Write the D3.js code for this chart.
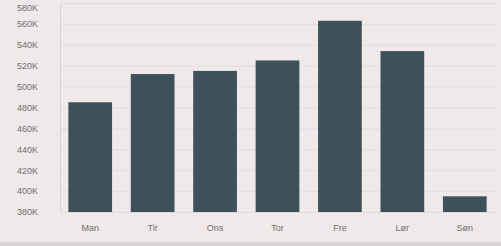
<!DOCTYPE html>
<html>
<head>
<meta charset="utf-8">
<script src="https://cdn.jsdelivr.net/npm/d3@7"></script>
<style>
  html, body { margin: 0; padding: 0; background: #efe9ea; }
  svg { display: block; }
</style>
</head>
<body>
<script>
// ugedage og salg (tusinder)
const days = ["Man", "Tir", "Ons", "Tor", "Fre", "Lør", "Søn"];
const sales = [485, 512, 515, 525, 563, 534, 395];
const yTicks = [380, 400, 420, 440, 460, 480, 500, 520, 540, 560, 580];

const width = 501;
const height = 246;

const svg = d3.select("body").append("svg")
    .attr("width", width)
    .attr("height", height);

// baggrund
svg.append("rect")
    .attr("width", width)
    .attr("height", height)
    .attr("fill", "#efe9ea");

// grå kant i bunden
svg.append("rect")
    .attr("x", 0)
    .attr("y", 242)
    .attr("width", width)
    .attr("height", 4)
    .attr("fill", "#d6d1d3");

const x = d3.scaleBand()
    .domain(days)
    .range([59, 496])
    .paddingInner(0.3)
    .paddingOuter(0.15);

const y = d3.scaleLinear()
    .domain([380, 580])
    .range([212, 3]);

// gitterlinjer
svg.append("g")
    .selectAll("line")
    .data(yTicks)
    .enter().append("line")
    .attr("x1", 60)
    .attr("x2", 496)
    .attr("y1", d => y(d) + 0.5)
    .attr("y2", d => y(d) + 0.5)
    .attr("stroke", "#e4dcde")
    .attr("stroke-width", 1);

// y-akse
const yAxis = svg.append("g")
    .attr("transform", "translate(60,0)")
    .call(d3.axisLeft(y).tickValues(yTicks).tickSize(0).tickPadding(22)
        .tickFormat(d => d + "K"));
yAxis.select(".domain").attr("stroke", "#d9d0d3");
yAxis.selectAll("text")
    .style("font", "9px 'Liberation Sans', Arial, sans-serif")
    .attr("fill", "#726d6f");
// øverste etiket lidt ned så den ikke skæres af
yAxis.selectAll(".tick").filter(d => d === 580).select("text").attr("dy", "0.8em");

// søjler
svg.append("g")
    .selectAll("rect")
    .data(days)
    .enter().append("rect")
    .attr("x", d => x(d))
    .attr("y", (d, i) => y(sales[i]))
    .attr("width", x.bandwidth())
    .attr("height", (d, i) => y(380) - y(sales[i]))
    .attr("fill", "#3c5159");

// x-akse
const xAxis = svg.append("g")
    .attr("transform", "translate(0,212)")
    .call(d3.axisBottom(x).tickSize(0).tickPadding(13));
xAxis.select(".domain").remove();
xAxis.selectAll("text")
    .style("font", "9px 'Liberation Sans', Arial, sans-serif")
    .attr("fill", "#726d6f");
</script>
</body>
</html>
